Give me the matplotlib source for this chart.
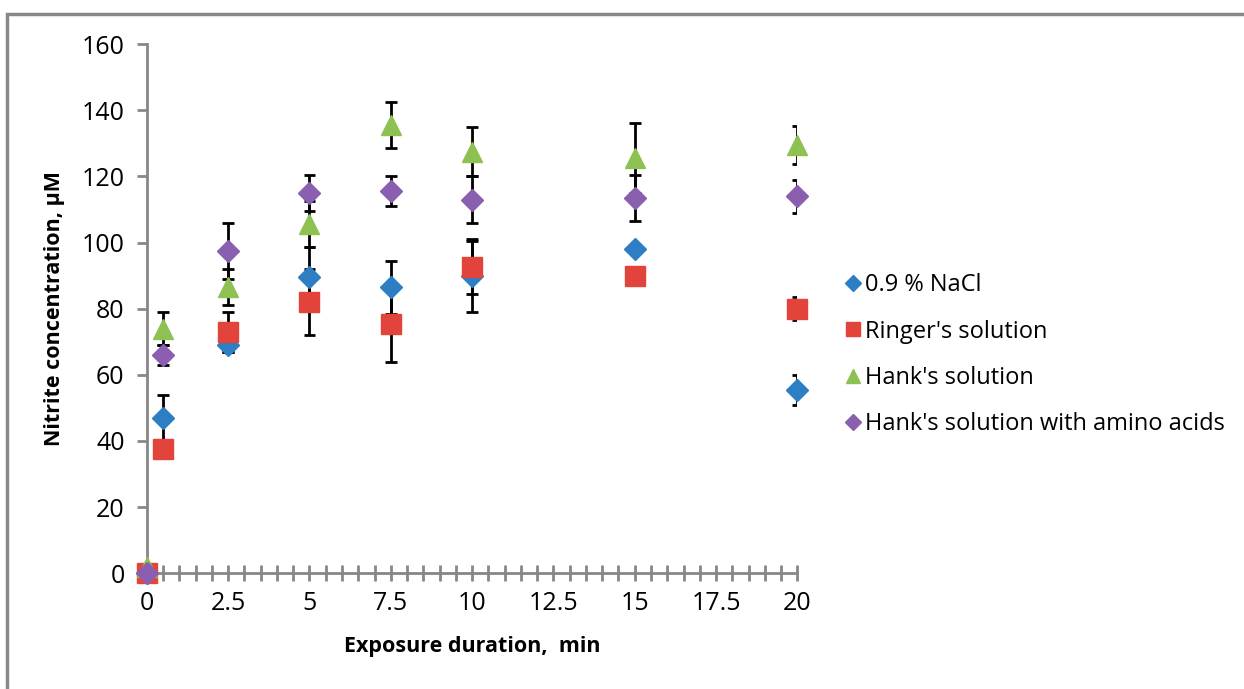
import numpy as np
import matplotlib
matplotlib.use("Agg")
import matplotlib.pyplot as plt
from matplotlib.patches import Rectangle

plt.rcParams['font.family'] = ['Open Sans', 'DejaVu Sans']

# exposure times (min)
t = [0, 0.5, 2.5, 5, 7.5, 10, 15, 20]

# nitrite concentration, uM
nacl = [0, 47, 69, 89.5, 86.5, 90, 98, 55.5]
nacl_err = [0, 7, 2, 9, 8, 11, 0, 4.5]

ringer = [0, 37.5, 73, 82, 75.5, 92.5, 90, 80]
ringer_err = [0, 0, 6, 10, 11.5, 8, 0, 3.5]

hank = [2, 74, 86.5, 105.5, 135.5, 127.5, 125.5, 129.5]
hank_err = [0, 5, 5.5, 7, 7, 7.5, 10.5, 5.7]

hank_aa = [0, 66, 97.5, 115, 115.5, 113, 113.5, 114]
hank_aa_err = [0, 3, 8.5, 5.5, 4.5, 7, 7, 5]

labels = ["0.9 % NaCl", "Ringer's solution", "Hank's solution",
          "Hank's solution with amino acids"]

series = [
    (nacl, nacl_err, 'D', '#2e7ec4', 11),
    (ringer, ringer_err, 's', '#e2443c', 14),
    (hank, hank_err, '^', '#8dc152', 14),
    (hank_aa, hank_aa_err, 'D', '#8a5fb0', 11),
]

fig = plt.figure(figsize=(12.44, 6.89), dpi=100)
ax = fig.add_axes([0.118, 0.168, 0.523, 0.768])

cap = 0.18  # half cap width in x units, so caps clip at the axes edge like excel
tt = np.array(t)
for (y, e, m, c, ms), lab in zip(series, labels):
    y = np.array(y)
    e = np.array(e)
    has = e > 0
    ax.errorbar(tt[has], y[has], yerr=e[has], fmt='none', ecolor='black',
                elinewidth=2, capsize=0, zorder=2)
    for sgn in (1, -1):
        ax.hlines(y[has] + sgn * e[has], tt[has] - cap, tt[has] + cap,
                  color='black', linewidth=2, zorder=2)
for (y, e, m, c, ms), lab in zip(series, labels):
    ax.plot(t, y, linestyle='none', marker=m, color=c, markersize=ms,
            label=lab, clip_on=False, zorder=3)

ax.set_xlim(0, 20)
ax.set_ylim(0, 160)
ax.set_xticks(np.arange(0, 20.1, 2.5))
ax.set_xticklabels(['0', '2.5', '5', '7.5', '10', '12.5', '15', '17.5', '20'])
ax.set_xticks(np.arange(0, 20.1, 0.5), minor=True)
ax.set_yticks(np.arange(0, 161, 20))

for s in ['top', 'right']:
    ax.spines[s].set_visible(False)
for s in ['left', 'bottom']:
    ax.spines[s].set_color('#878787')
    ax.spines[s].set_linewidth(2)

ax.tick_params(axis='y', direction='out', length=7, width=2, color='#878787',
               labelsize=18, pad=9)
ax.tick_params(axis='x', which='both', direction='inout', length=12, width=2,
               color='#878787', labelsize=18, pad=7)
ax.tick_params(axis='x', which='minor', length=12)

ax.set_xlabel('Exposure duration,  min', fontsize=15.5, fontweight='bold', labelpad=14)
ax.set_ylabel('Nitrite concentration, µM', fontsize=15.5, fontweight='bold', labelpad=12)

leg = ax.legend(loc='center left', bbox_to_anchor=(833 / 1244, 0.485),
                bbox_transform=fig.transFigure, frameon=False,
                fontsize=17, handlelength=0.7, handletextpad=0.15, labelspacing=0.95,
                markerscale=0.75, borderpad=0)

fig.patches.append(Rectangle((7 / 1244, -0.05), 1.1, 0.05 + (689 - 14) / 689,
                             transform=fig.transFigure, fill=False,
                             edgecolor='#888888', linewidth=2.5))

fig.savefig('out.png', dpi=100)
